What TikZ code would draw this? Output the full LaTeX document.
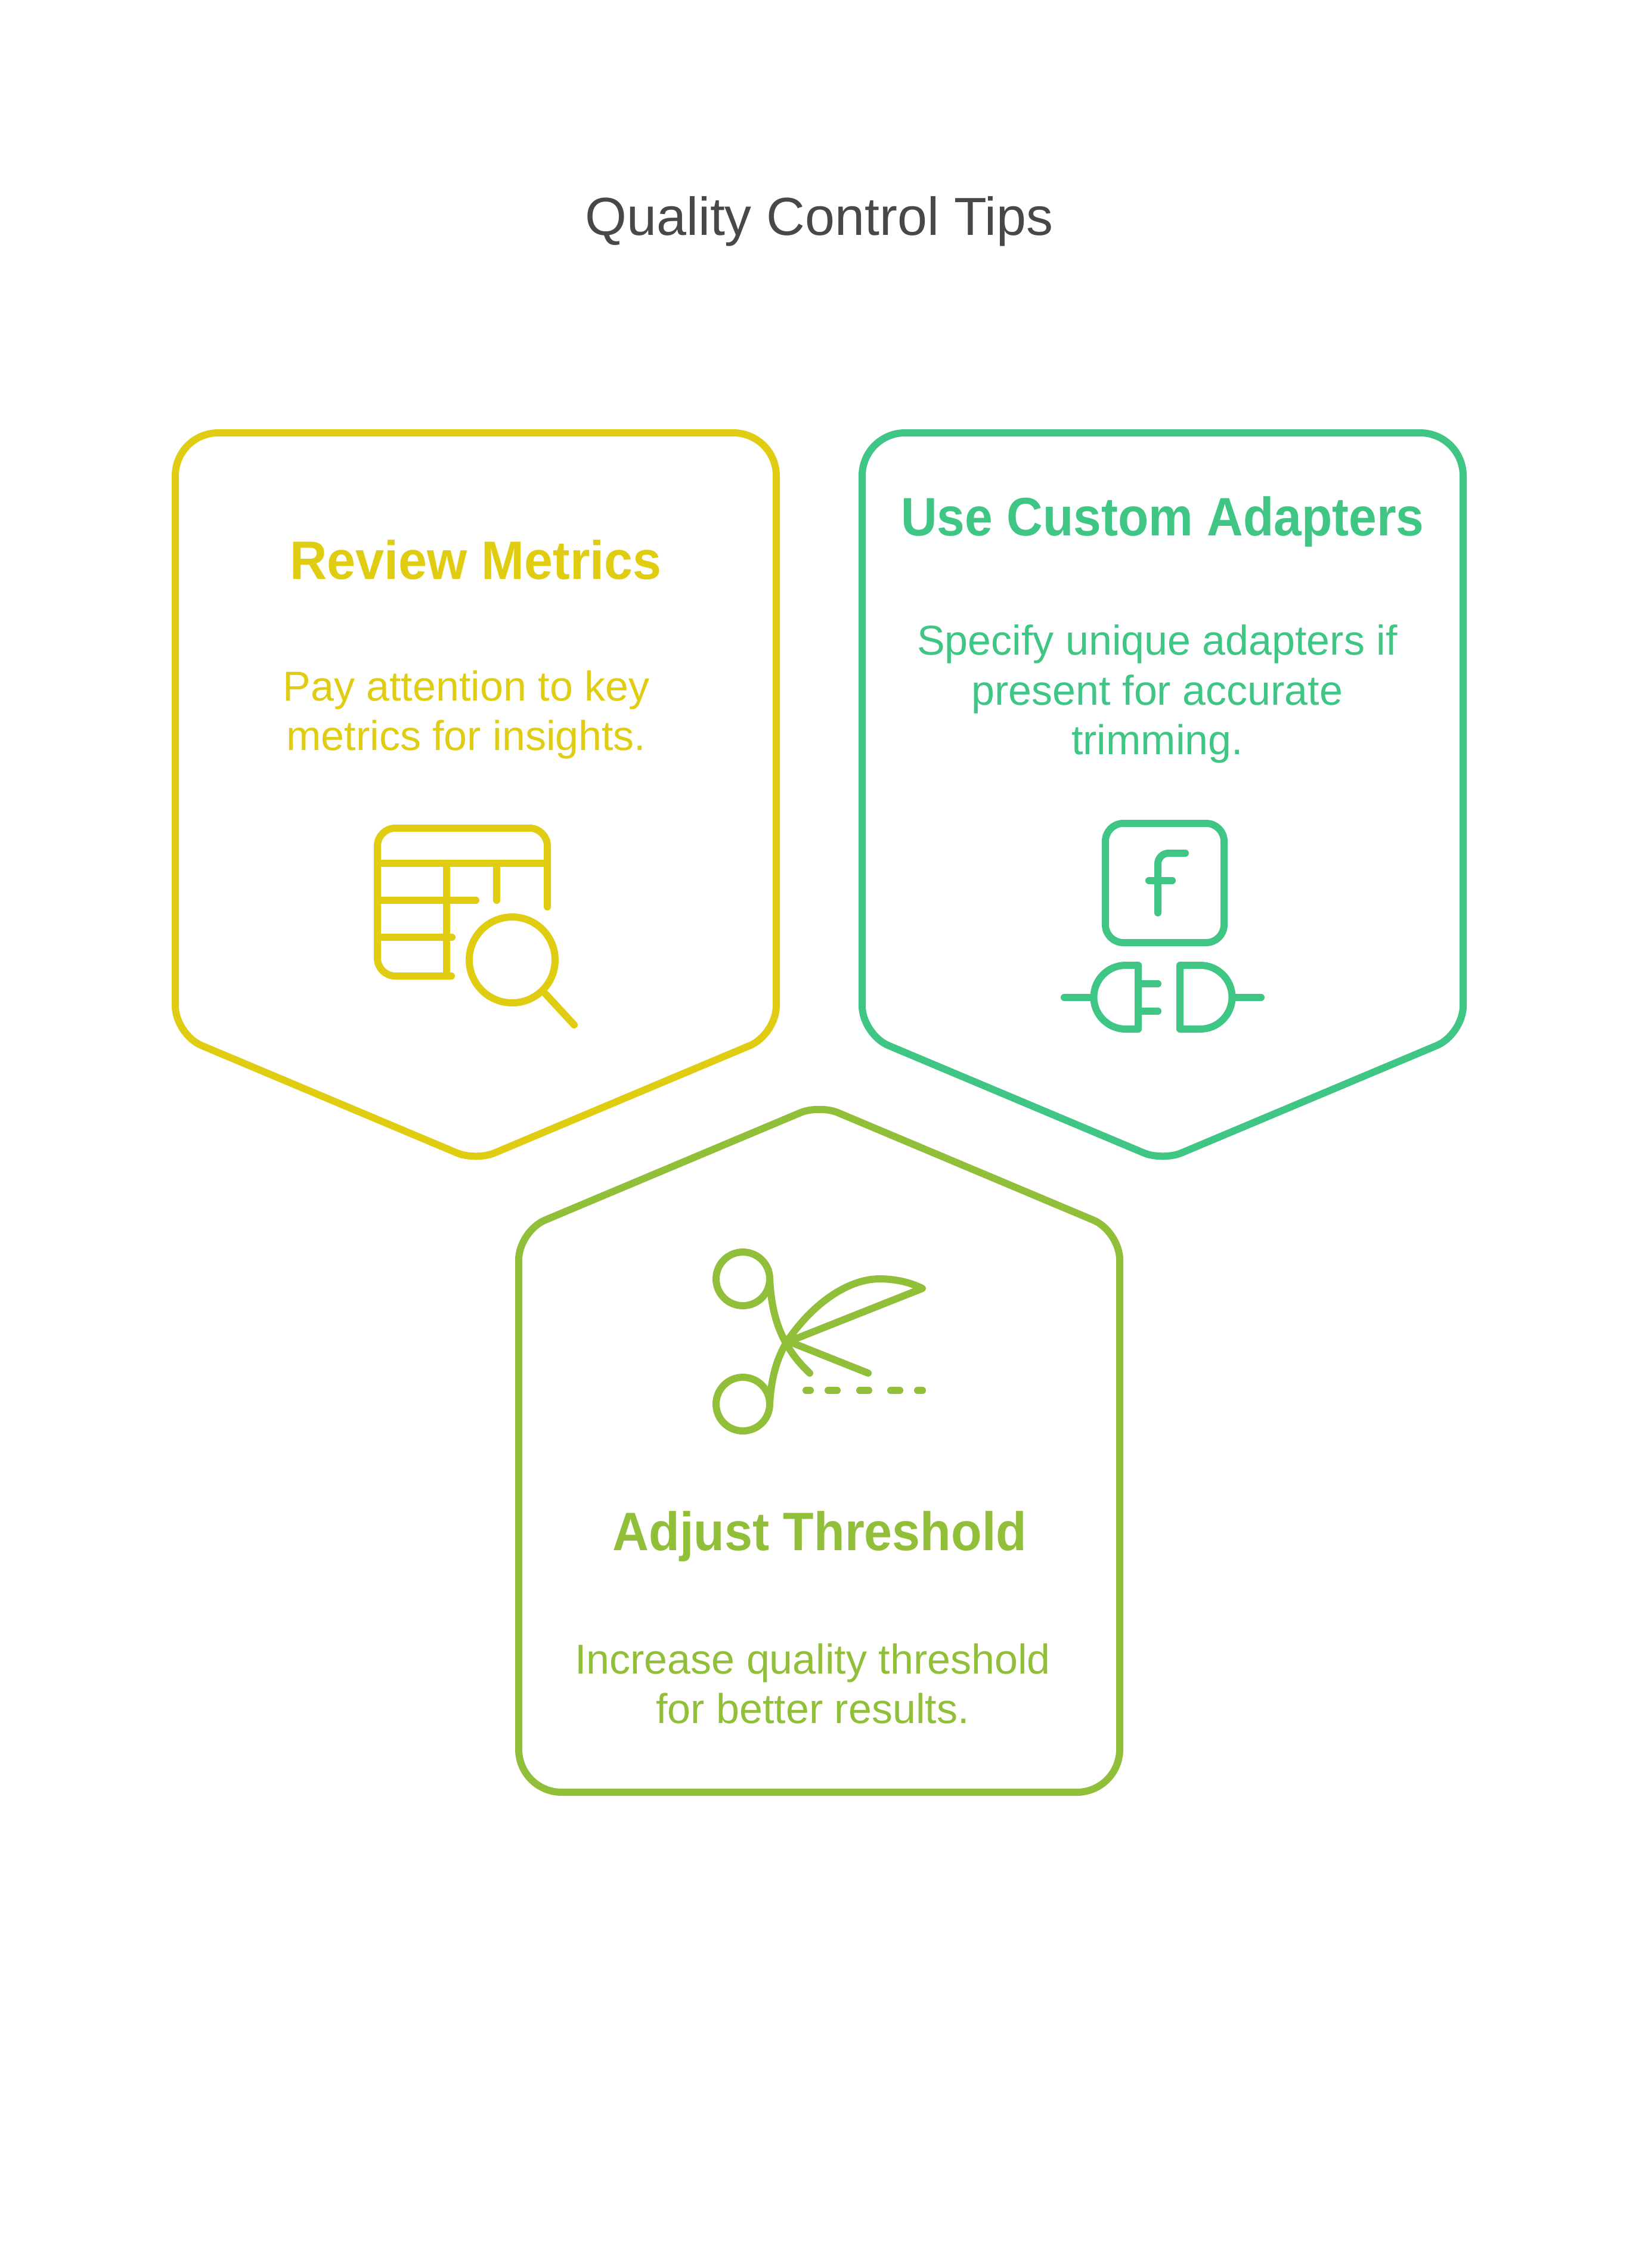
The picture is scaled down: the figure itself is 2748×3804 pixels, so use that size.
\documentclass[tikz,border=0pt]{standalone}
\usepackage{fontspec}
\setmainfont{Liberation Sans}
\newfontfamily\headA[FakeStretch=0.95]{Liberation Sans}
\newfontfamily\headB[FakeStretch=0.925]{Liberation Sans}
\newfontfamily\headC[FakeStretch=0.93]{Liberation Sans}
\definecolor{cyel}{HTML}{E0CD12}
\definecolor{cgrn}{HTML}{3FC685}
\definecolor{colv}{HTML}{92BF39}
\definecolor{ctit}{HTML}{484848}
\tikzset{
  outline/.style={line width=6pt,line join=round},
  icon/.style={line width=6pt,line cap=round,line join=round},
  heading/.style={font=\fontsize{45.4}{50}\selectfont\bfseries,inner sep=0pt,anchor=base},
  bodytext/.style={font=\fontsize{35}{41.75}\selectfont,inner sep=0pt,align=center,anchor=center},
  titletext/.style={font=\fontsize{44.9}{50}\selectfont,inner sep=0pt,anchor=base,text=ctit}
}
\begin{document}
\begin{tikzpicture}[x=0.5pt,y=-0.5pt]
\useasboundingbox (0,0) rectangle (2748,3804);
\fill[white] (0,0) rectangle (2748,3804);
\node[titletext] (title) at (1374,395) {Quality Control Tips};
% Box 1
\draw[outline,cyel] (546,726) [rounded corners=36pt] -- (1302,726) [rounded corners=24pt] -- (1302,1735) [rounded corners=17pt] -- (798,1947) [rounded corners=24pt] -- (294,1735) [rounded corners=36pt] -- (294,726) -- (546,726);
\node[heading,text=cyel] (h1) at (798,971) {\headA Review Metrics};
\node[bodytext,text=cyel] (b1) at (782,1199) {Pay attention to key\\metrics for insights.};
% icon 1
\begin{scope}[icon,cyel]
\draw[rounded corners=15pt] (757,1637) -- (633,1637) -- (633,1389) -- (918,1389) [sharp corners] -- (918,1521);
\draw (633,1448) -- (918,1448);
\draw (633,1510) -- (798,1510);
\draw (633,1572) -- (758,1572);
\draw (749,1448) -- (749,1637);
\draw (833,1448) -- (833,1510);
\draw (859,1610) circle[radius=36pt];
\draw (915,1667) -- (963,1719);
\end{scope}
% Box 2
\draw[outline,cgrn] (1698,726) [rounded corners=36pt] -- (2454,726) [rounded corners=24pt] -- (2454,1735) [rounded corners=17pt] -- (1950,1947) [rounded corners=24pt] -- (1446,1735) [rounded corners=36pt] -- (1446,726) -- (1698,726);
\node[heading,text=cgrn] (h2) at (1950,898) {\headB Use Custom Adapters};
\node[bodytext,text=cgrn] (b2) at (1941,1164) {Specify unique adapters if\\present for accurate\\trimming.};
\begin{scope}[icon,cgrn]
\draw[rounded corners=15pt] (1950,1381) -- (2053,1381) -- (2053,1581) -- (1854,1581) -- (1854,1381) -- (1950,1381);
\draw[rounded corners=9pt] (1942,1531) -- (1942,1431) -- (1988,1431);
\draw (1927,1477) -- (1966,1477);
\draw (1888,1619) arc[start angle=90,end angle=270,radius=26.75pt] -- (1909,1726) -- (1909,1619) -- cycle;
\draw (1785,1673) -- (1834,1673);
\draw (1909,1650) -- (1942,1650);
\draw (1909,1696) -- (1942,1696);
\draw (2013,1619) arc[start angle=90,end angle=-90,radius=26.75pt] -- (1979,1726) -- (1979,1619) -- cycle;
\draw (2067,1673) -- (2115,1673);
\end{scope}
% Box 3
\draw[outline,colv] (1121,3006) [rounded corners=36pt] -- (870,3006) [rounded corners=24pt] -- (870,2065) [rounded corners=17pt] -- (1374,1853) [rounded corners=24pt] -- (1878,2065) [rounded corners=36pt] -- (1878,3006) -- (1121,3006);
\begin{scope}[icon,colv]
\draw (1246,2145) circle[radius=22.5pt];
\draw (1246,2355) circle[radius=22.5pt];
\draw (1291,2145) .. controls (1294,2210) and (1312,2260) .. (1358,2303);
\draw (1291,2355) .. controls (1294,2300) and (1308,2270) .. (1320,2250) .. controls (1360,2190) and (1420,2145) .. (1475,2145) .. controls (1500,2145) and (1525,2150) .. (1547,2161) -- (1323,2250) -- (1456,2303);
\draw (1352,2332) -- (1359,2332);
\draw (1389,2332) -- (1404,2332);
\draw (1442,2332) -- (1457,2332);
\draw (1494,2332) -- (1509,2332);
\draw (1539,2332) -- (1547,2332);
\end{scope}
\node[heading,text=colv] (h3) at (1375,2600) {\headC Adjust Threshold};
\node[bodytext,text=colv] (b3) at (1363,2824) {Increase quality threshold\\for better results.};
\end{tikzpicture}
\end{document}
